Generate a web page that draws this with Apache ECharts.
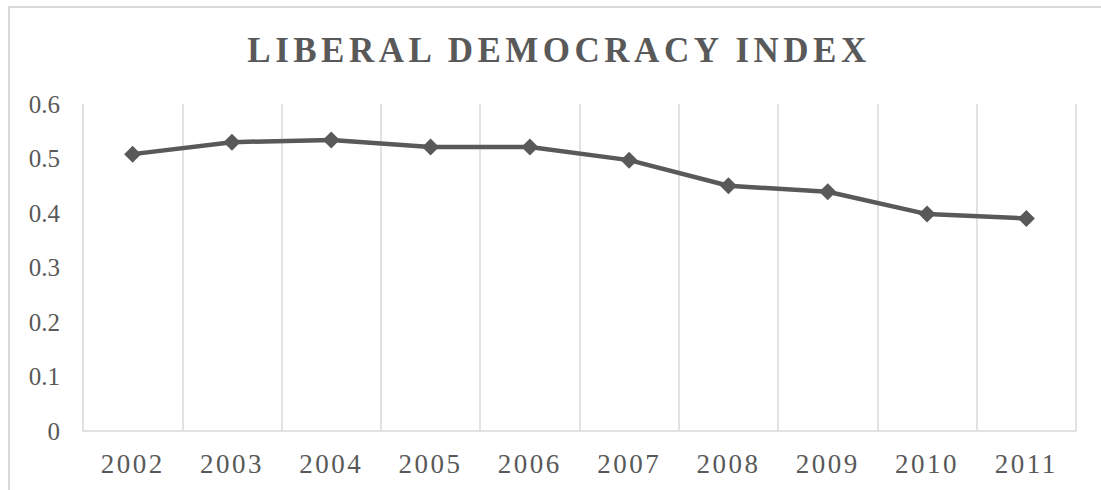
<!DOCTYPE html>
<html>
<head>
<meta charset="utf-8">
<script src="https://cdn.jsdelivr.net/npm/echarts@6/dist/echarts.min.js"></script>
<style>
  html, body { margin: 0; padding: 0; background: #fff; }
  #chart { width: 1101px; height: 490px; }
  /* spaced lettering for the heading and the year labels */
  #chart text[style*="35px"] { letter-spacing: 4.5px; }
  #chart text[style*="27px"] { letter-spacing: 2.5px; }
</style>
</head>
<body>
<div id="chart"></div>
<script>
const years = ['2002', '2003', '2004', '2005', '2006', '2007', '2008', '2009', '2010', '2011'];
const liberalDemocracy = [0.508, 0.530, 0.534, 0.521, 0.521, 0.497, 0.450, 0.439, 0.398, 0.390];
const titleText = 'LIBERAL DEMOCRACY INDEX';

const ink = '#595959';
const rule = '#d9d9d9';
const serif = "'Liberation Serif', 'Times New Roman', serif";

const chart = echarts.init(document.getElementById('chart'), null, { renderer: 'svg' });

chart.setOption({
  animation: false,
  backgroundColor: '#fff',
  title: {
    text: titleText,
    left: 554,
    top: 28,
    textAlign: 'center',
    textStyle: { fontFamily: serif, fontSize: 35, fontWeight: 'bold', color: ink }
  },
  graphic: [{
    type: 'rect',
    silent: true,
    shape: { x: 9, y: 7, width: 1200, height: 600 },
    style: { fill: 'none', stroke: rule, lineWidth: 2 }
  }],
  grid: { left: 83, right: 25, top: 104, bottom: 59, containLabel: false },
  xAxis: {
    type: 'category',
    data: years,
    boundaryGap: true,
    axisTick: { show: false },
    axisLine: { lineStyle: { color: rule, width: 1.5 } },
    splitLine: { show: true, lineStyle: { color: rule, width: 1.5 } },
    axisLabel: { color: ink, fontFamily: serif, fontSize: 27, margin: 19 }
  },
  yAxis: {
    type: 'value',
    min: 0,
    max: 0.6,
    interval: 0.1,
    axisLine: { show: false },
    axisTick: { show: false },
    splitLine: { show: false },
    axisLabel: { color: ink, fontFamily: serif, fontSize: 25, margin: 23 }
  },
  series: [{
    type: 'line',
    data: liberalDemocracy,
    symbol: 'diamond',
    symbolSize: 17,
    lineStyle: { color: ink, width: 4.5 },
    itemStyle: { color: ink }
  }]
});
</script>
</body>
</html>
